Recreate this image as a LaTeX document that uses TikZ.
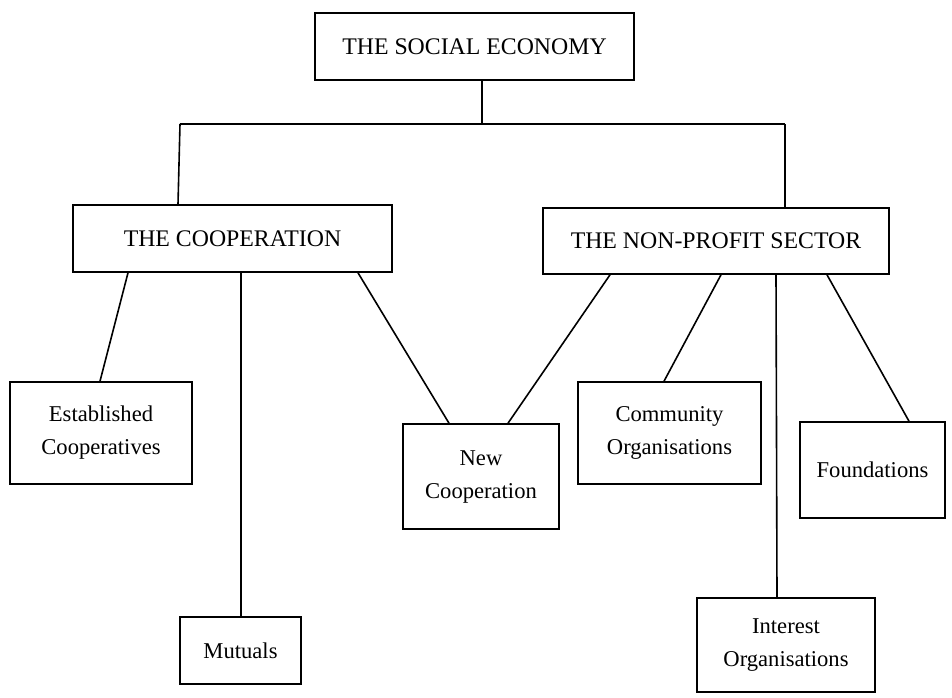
\documentclass[tikz,border=0pt]{standalone}
\usepackage{fontspec}
\setmainfont{Liberation Serif}
\begin{document}
\begin{tikzpicture}[x=1pt,y=-1pt,
  box/.style={draw,line width=1.6pt,inner sep=0pt,align=center,font=\fontsize{22.6}{33}\selectfont},
  capbox/.style={box,font=\fontsize{23.8}{30}\selectfont},
  link/.style={line width=1.6pt}]
\useasboundingbox (0,0) rectangle (952,697);
\node[capbox,minimum width=319pt,minimum height=67pt] (top) at (474.5,46.5) {THE SOCIAL ECONOMY};
\node[capbox,minimum width=319pt,minimum height=67pt] (coop) at (232.5,238.5) {THE COOPERATION};
\node[capbox,minimum width=346pt,minimum height=66pt] (np) at (716,241) {THE NON-PROFIT SECTOR};
\node[box,minimum width=182pt,minimum height=102pt] (est) at (101,433) {Established\\Cooperatives};
\node[box,minimum width=121pt,minimum height=67pt] (mut) at (240.5,650.5) {Mutuals};
\node[box,minimum width=156pt,minimum height=105pt] (newc) at (481,476.5) {New\\Cooperation};
\node[box,minimum width=183pt,minimum height=102pt] (comm) at (669.5,433) {Community\\Organisations};
\node[box,minimum width=178pt,minimum height=94pt] (inter) at (786,645) {Interest\\Organisations};
\node[box,minimum width=145pt,minimum height=96pt] (found) at (872.5,470) {Foundations};
\coordinate (jl) at (180,124);
\coordinate (jr) at (785,124);
\coordinate (jm) at (482,124);
\draw[link] ([xshift=7.5pt]top.south) -- (jm);
\draw[link] (jl) -- (jr);
\draw[link] (jl) -- ([xshift=-54.5pt]coop.north);
\draw[link] (jr) -- ([xshift=69pt]np.north);
\draw[link] ([xshift=-104.5pt]coop.south) -- ([xshift=-1pt]est.north);
\draw[link] ([xshift=8.5pt]coop.south) -- ([xshift=0.5pt]mut.north);
\draw[link] ([xshift=125.5pt]coop.south) -- ([xshift=-32pt]newc.north);
\draw[link] ([xshift=-106pt]np.south) -- ([xshift=27pt]newc.north);
\draw[link] ([xshift=5pt]np.south) -- ([xshift=-5.5pt]comm.north);
\draw[link] ([xshift=60pt]np.south) -- ([xshift=-9pt]inter.north);
\draw[link] ([xshift=111pt]np.south) -- ([xshift=36.5pt]found.north);
\end{tikzpicture}
\end{document}
